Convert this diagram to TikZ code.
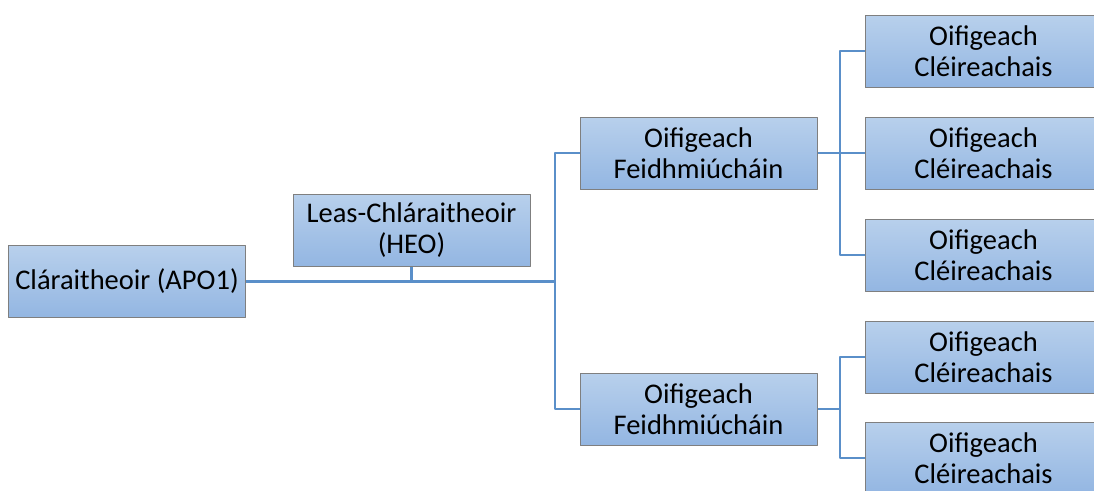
\documentclass[tikz,border=0pt]{standalone}
\usepackage{fontspec}
\setmainfont{Carlito}
\usetikzlibrary{positioning}
\definecolor{boxtop}{HTML}{B8D0EC}
\definecolor{boxbot}{HTML}{93B6E2}
\definecolor{boxline}{HTML}{7F7F7F}
\definecolor{linkblue}{HTML}{5A8FC9}
\tikzset{
  post/.style={draw=boxline, line width=1pt, top color=boxtop, bottom color=boxbot,
    minimum width=237, minimum height=72, align=center, inner sep=0pt,
    font=\fontsize{28.5}{31.5}\selectfont},
  link/.style={draw=linkblue, line width=2.5pt}
}
\begin{document}
\begin{tikzpicture}[x=1pt, y=-1pt, line join=round]
\useasboundingbox (0,0) rectangle (1094,490);
% posts
\node[post] (clar) at (127,281.5) {Cláraitheoir (APO1)};
\node[post] (leas) at (411.5,230) {Leas-Chláraitheoir\\(HEO)};
\node[post] (feid1) at (698.5,153) {Oifigeach\\Feidhmiúcháin};
\node[post] (feid2) at (698.5,409) {Oifigeach\\Feidhmiúcháin};
\node[post] (cle1) at (983.5,51) {Oifigeach\\Cléireachais};
\node[post] (cle2) at (983.5,153) {Oifigeach\\Cléireachais};
\node[post] (cle3) at (983.5,255) {Oifigeach\\Cléireachais};
\node[post] (cle4) at (983.5,357) {Oifigeach\\Cléireachais};
\node[post] (cle5) at (983.5,458) {Oifigeach\\Cléireachais};
% junctions
\coordinate (j1) at (555,281.5);
\coordinate (j2) at (840,153);
\coordinate (j3) at (840,409);
% links
\draw[link] (clar.east) -- (j1);
\draw[link] (leas.south) -- (leas.south |- j1);
\draw[link] (feid1.west) -| (j1) |- (feid2.west);
\draw[link] (feid1.east) -- (j2);
\draw[link] (cle1.west) -| (j2) |- (cle3.west);
\draw[link] (j2) -- (cle2.west);
\draw[link] (feid2.east) -- (j3);
\draw[link] (cle4.west) -| (j3) |- (cle5.west);
\end{tikzpicture}
\end{document}
